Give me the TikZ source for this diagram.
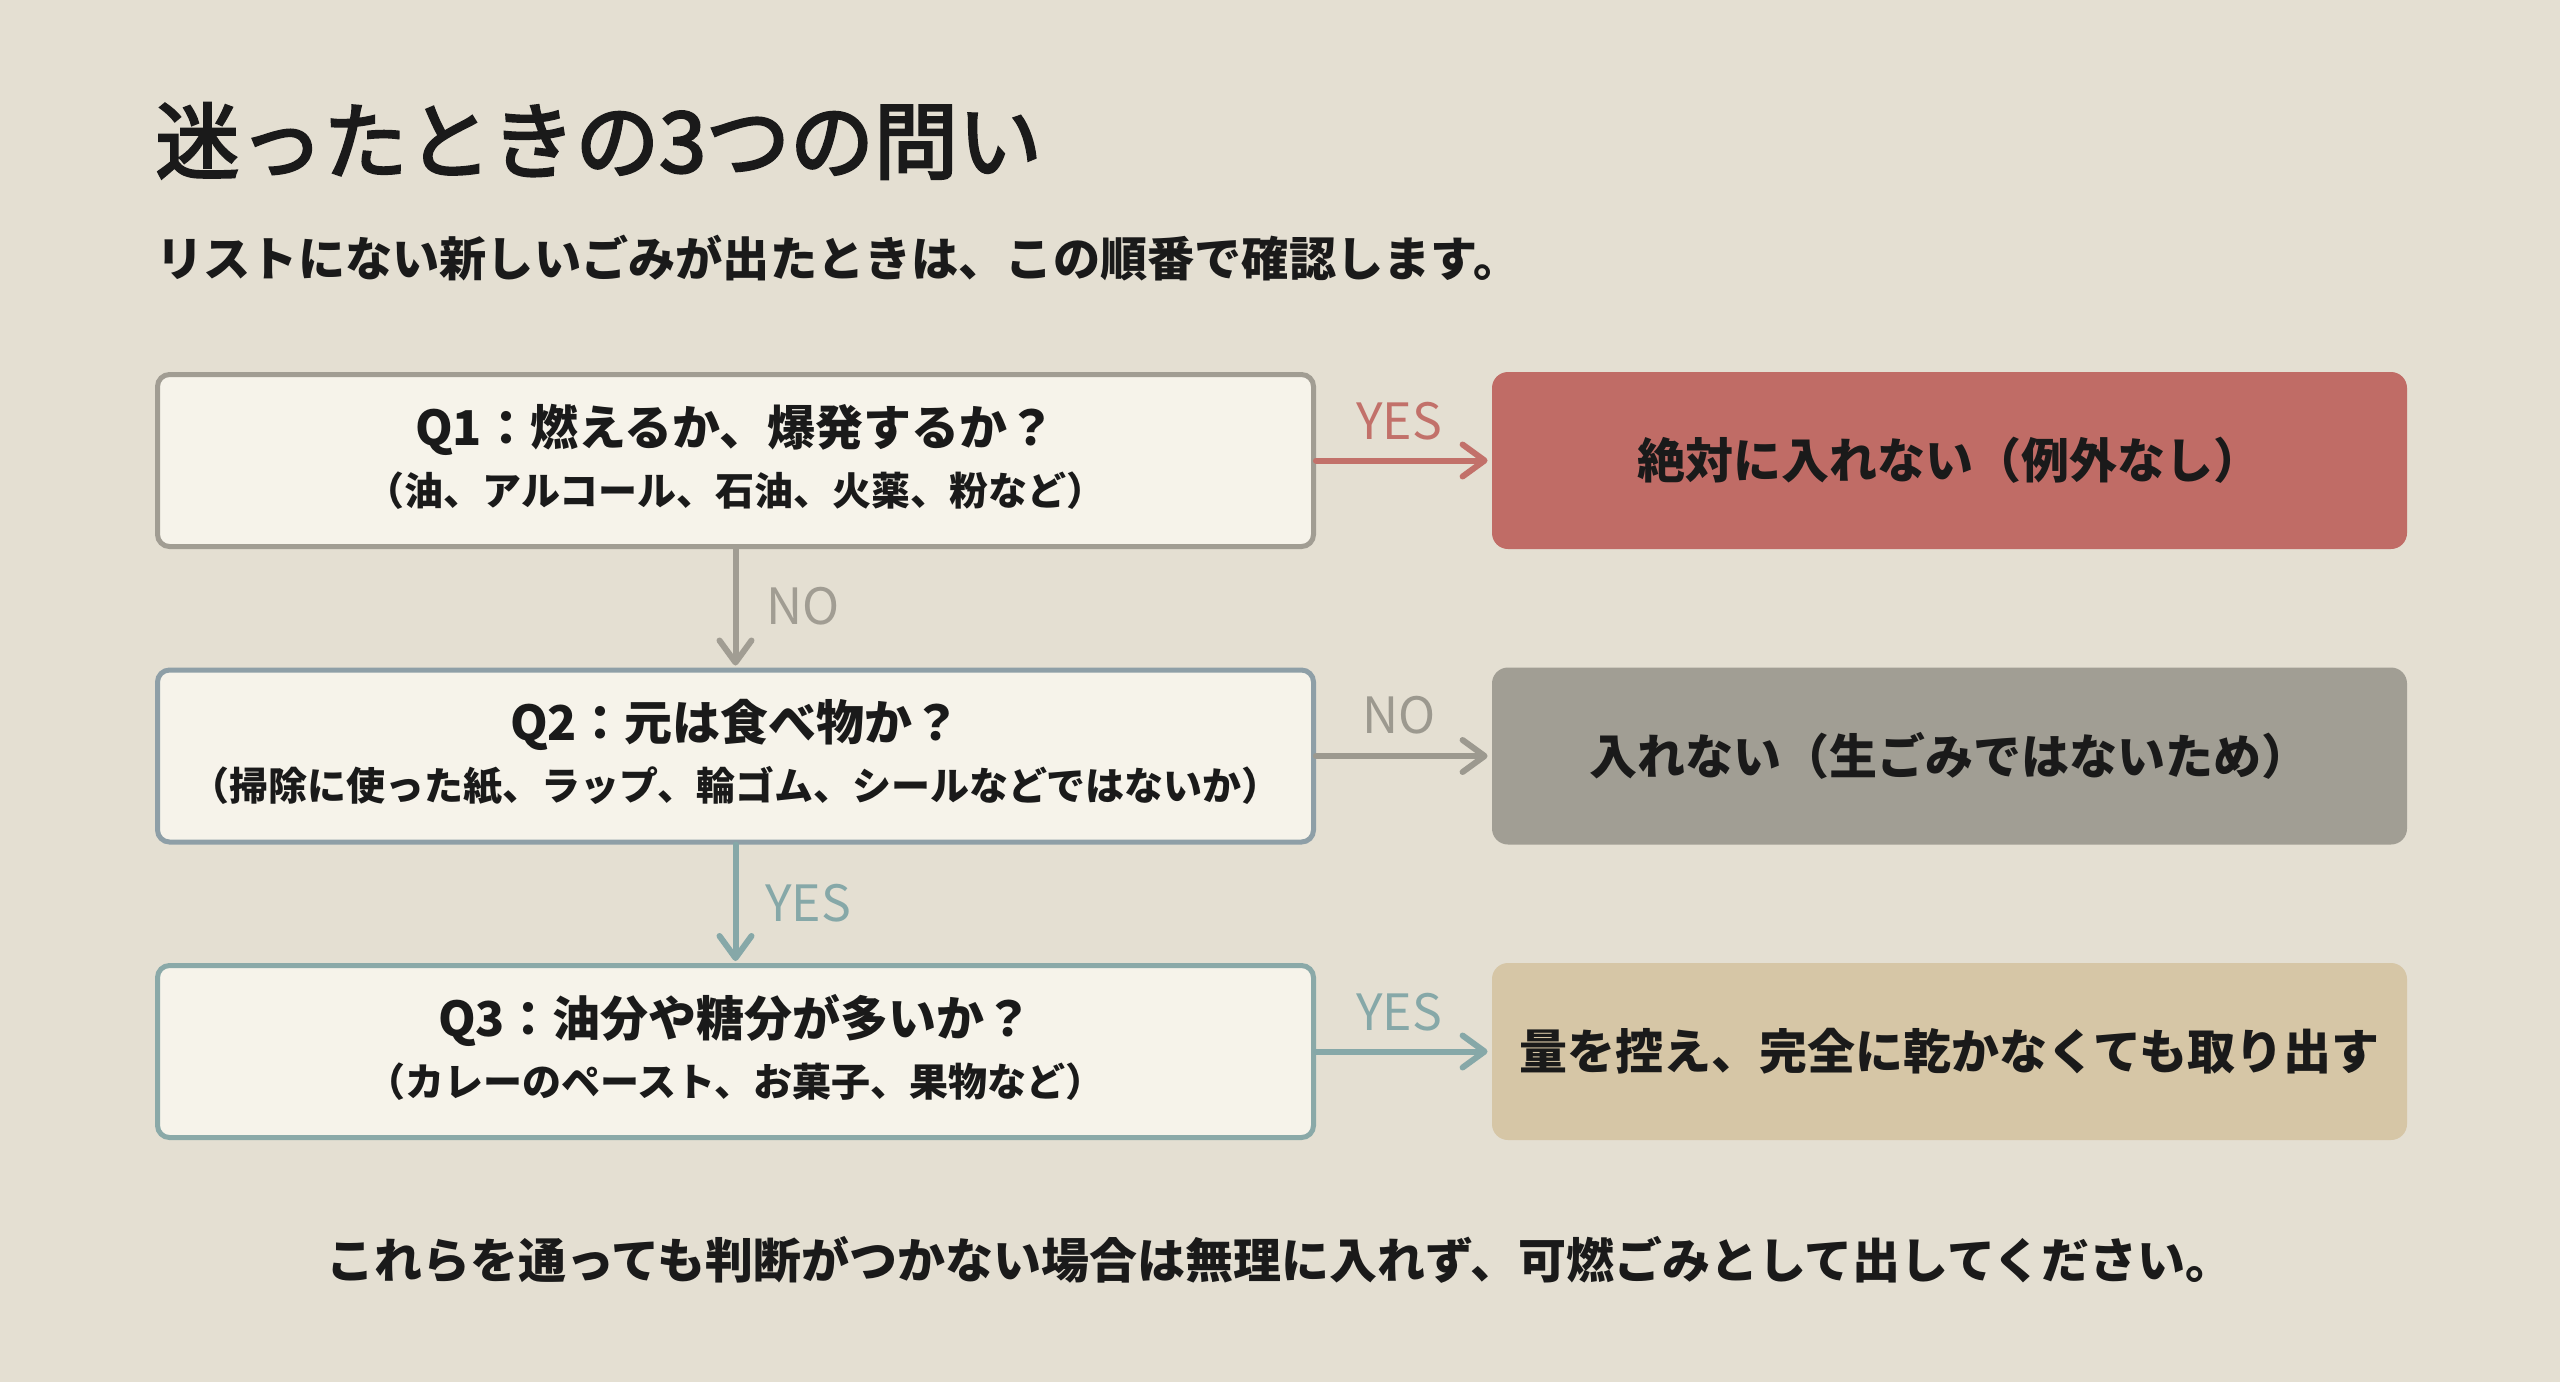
\documentclass[tikz,border=0pt]{standalone}
\usepackage{fontspec}
\setmainfont{Noto Sans CJK JP}
\newfontfamily\medfont{Noto Sans CJK JP}[FakeBold=3]
\usetikzlibrary{arrows.meta}
\definecolor{bgc}{HTML}{E4DFD2}
\definecolor{boxfill}{HTML}{F6F3EA}
\definecolor{qonec}{HTML}{A19D93}
\definecolor{qtwoc}{HTML}{8E9FA7}
\definecolor{qthreec}{HTML}{8AA9A8}
\definecolor{redc}{HTML}{C06C66}
\definecolor{grayc}{HTML}{A19E94}
\definecolor{tanc}{HTML}{D6C6A6}
\definecolor{redarr}{HTML}{C2716A}
\definecolor{grayarr}{HTML}{9C998F}
\definecolor{tealarr}{HTML}{86A8A8}
\definecolor{txt}{HTML}{1A1A1A}
\tikzset{
  qbox/.style={draw, line width=2.5pt, fill=boxfill, rounded corners=6pt,
    minimum width=578pt, minimum height=86pt, inner sep=0pt},
  rbox/.style={rounded corners=8pt, minimum width=457.5pt, minimum height=88.5pt,
    inner sep=0pt, text=txt, font=\bfseries\fontsize{24}{28}\selectfont},
  qmain/.style={text=txt, inner sep=0pt, font=\bfseries\fontsize{24}{28}\selectfont},
  qsub/.style={text=txt, inner sep=0pt, font=\bfseries\fontsize{19.5}{23}\selectfont},
  arr/.style={line width=3pt, line cap=round, line join=round,
    -{Straight Barb[length=11pt,width=16pt,line cap=round,line join=round]}},
  lbl/.style={inner sep=0pt, font=\fontsize{25}{28}\selectfont},
}
\begin{document}
\begin{tikzpicture}[x=0.5pt,y=-0.5pt]
\fill[bgc] (0,0) rectangle (2560,1382);
\useasboundingbox (0,0) rectangle (2560,1382);
% titles
\node[anchor=west, inner sep=0pt, text=txt, font=\medfont\fontsize{42}{48}\selectfont] (title) at (155,141) {迷ったときの3つの問い};
\node[anchor=west, inner sep=0pt, text=txt, font=\bfseries\fontsize{23.6}{28}\selectfont] (sub) at (156,258) {リストにない新しいごみが出たときは、この順番で確認します。};
% question boxes
\node[qbox, draw=qonec] (q1) at (735.5,460.5) {};
\node[qbox, draw=qtwoc] (q2) at (735.5,756) {};
\node[qbox, draw=qthreec] (q3) at (735.5,1051.5) {};
\node[qmain] (q1a) at ([yshift=15.5pt]q1.center) {Q1：燃えるか、爆発するか？};
\node[qsub] (q1b) at ([yshift=-15pt]q1.center) {（油、アルコール、石油、火薬、粉など）};
\node[qmain] (q2a) at ([yshift=15.5pt]q2.center) {Q2：元は食べ物か？};
\node[qsub] (q2b) at ([yshift=-15pt]q2.center) {（掃除に使った紙、ラップ、輪ゴム、シールなどではないか）};
\node[qmain] (q3a) at ([yshift=15.5pt]q3.center) {Q3：油分や糖分が多いか？};
\node[qsub] (q3b) at ([yshift=-15pt]q3.center) {（カレーのペースト、お菓子、果物など）};
% result boxes
\node[rbox, fill=redc] (r1) at (1949.5,460.5) {絶対に入れない（例外なし）};
\node[rbox, fill=grayc] (r2) at (1949.5,756) {入れない（生ごみではないため）};
\node[rbox, fill=tanc] (r3) at (1949.5,1051.5) {量を控え、完全に乾かなくても取り出す};
% connectors
\draw[arr, draw=redarr, shorten >=2pt] (q1.east) -- (r1.west);
\draw[arr, draw=grayarr, shorten >=2pt] (q2.east) -- (r2.west);
\draw[arr, draw=tealarr, shorten >=2pt] (q3.east) -- (r3.west);
\draw[arr, draw=qonec, shorten >=1pt] (q1.south) -- (q2.north);
\draw[arr, draw=tealarr, shorten >=1pt] (q2.south) -- (q3.north);
% labels
\node[lbl, text=redarr] (l1) at (1399,421) {YES};
\node[lbl, text=grayarr] (l2) at (1399,715) {NO};
\node[lbl, text=tealarr] (l3) at (1399,1012) {YES};
\node[lbl, text=qonec] (l4) at (803,606) {NO};
\node[lbl, text=tealarr] (l5) at (808,903) {YES};
% footer
\node[inner sep=0pt, text=txt, font=\bfseries\fontsize{24}{28}\selectfont] (foot) at (1280,1260) {これらを通っても判断がつかない場合は無理に入れず、可燃ごみとして出してください。};
\end{tikzpicture}
\end{document}
